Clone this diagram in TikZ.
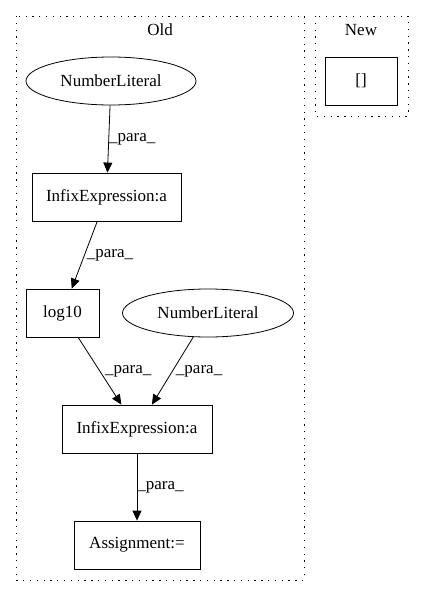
\documentclass[tikz,border=0pt]{standalone}
\usepackage{fontspec}
\setmainfont{Liberation Serif}
\usetikzlibrary{arrows.meta,shapes.geometric}
\begin{document}
\begin{tikzpicture}[x=1pt,y=-1pt,
  every node/.style={font=\fontsize{17pt}{19pt}\selectfont},
  boxnode/.style={draw,thick,rectangle,minimum height=48pt,inner sep=0pt},
  ellnode/.style={draw,thick,ellipse,minimum height=48pt,minimum width=170pt,inner sep=0pt},
  cluster/.style={draw,thick,dash pattern=on 1.3pt off 5.5pt},
  edge/.style={-{Triangle[length=10pt,width=9pt]},thick},
  elabel/.style={anchor=west,inner sep=0pt,pos=0.5}
]
\useasboundingbox (0,0) rectangle (424,596);
\draw[cluster] (16,16) rectangle (304,580);
\draw[cluster] (315,16) rectangle (408,116);
\node (oldlabel) at (160,30) {Old};
\node (newlabel) at (361,30) {New};
\node[boxnode,minimum width=72pt] (br) at (361,81) {[]};
\node[ellnode] (nl1) at (111,81) {NumberLiteral};
\node[boxnode,minimum width=149pt] (ie1) at (106.5,197) {InfixExpression:a};
\node[boxnode,minimum width=73pt] (lg) at (62.5,313) {log10};
\node[ellnode,minimum width=171pt] (nl2) at (208,313) {NumberLiteral};
\node[boxnode,minimum width=150pt] (ie2) at (137,429) {InfixExpression:a};
\node[boxnode,minimum width=126pt] (as) at (137,545) {Assignment:=};
\draw[edge] (nl1) -- node[elabel] {\_para\_} (ie1);
\draw[edge] (ie1) -- node[elabel,xshift=2pt] {\_para\_} (lg);
\draw[edge] (lg) -- node[elabel,xshift=5pt] {\_para\_} (ie2);
\draw[edge] (nl2) -- node[elabel,xshift=3pt] {\_para\_} (ie2);
\draw[edge] (ie2) -- node[elabel] {\_para\_} (as);
\end{tikzpicture}
\end{document}
